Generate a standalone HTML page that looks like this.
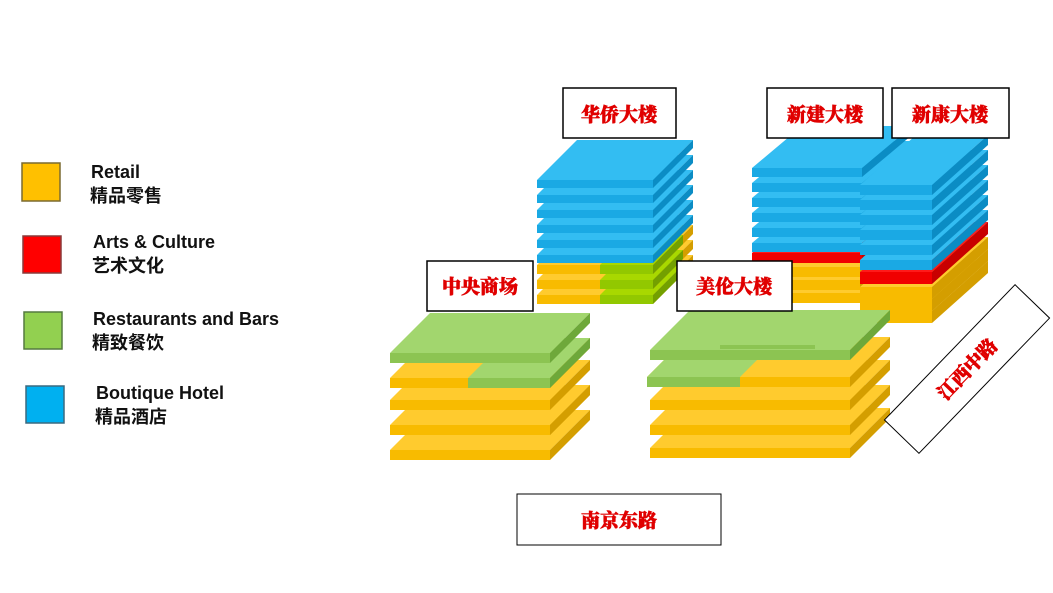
<!DOCTYPE html>
<html><head><meta charset="utf-8"><style>
body{margin:0;background:#fff;width:1053px;height:593px;overflow:hidden;font-family:"Liberation Sans","Noto Sans CJK SC",sans-serif}
</style></head><body>
<svg id="s" width="1053" height="593" xmlns="http://www.w3.org/2000/svg" style="position:absolute;left:0;top:0">
<rect x="22" y="163" width="38" height="38" fill="#ffc000" stroke="#7a6a30" stroke-width="1.5"/>
<rect x="23" y="236" width="38" height="37" fill="#ff0000" stroke="#8a3a3a" stroke-width="1.5"/>
<rect x="24" y="312" width="38" height="37" fill="#92d050" stroke="#557a40" stroke-width="1.5"/>
<rect x="26" y="386" width="38" height="37" fill="#00b0f0" stroke="#3a6a80" stroke-width="1.5"/>
<g font-weight="bold" font-size="18" fill="#111">
<text x="91" y="178">Retail</text><text x="90" y="202">精品零售</text>
<text x="93" y="248">Arts &amp; Culture</text><text x="92" y="272">艺术文化</text>
<text x="93" y="325">Restaurants and Bars</text><text x="92" y="349">精致餐饮</text>
<text x="96" y="399">Boutique Hotel</text><text x="95" y="423">精品酒店</text>
</g>
<g id="b"></g>
<g font-weight="900" font-size="19" fill="#e00000" font-family="'Liberation Serif','Noto Serif CJK SC',serif" text-anchor="middle" stroke="#e00000" stroke-width="0.6">
<rect x="563" y="88" width="113" height="50" fill="#fff" stroke="#000" stroke-width="1.5"/><text x="619" y="121">华侨大楼</text>
<rect x="767" y="88" width="116" height="50" fill="#fff" stroke="#000" stroke-width="1.5"/><text x="825" y="121">新建大楼</text>
<rect x="892" y="88" width="117" height="50" fill="#fff" stroke="#000" stroke-width="1.5"/><text x="950" y="121">新康大楼</text>
<rect x="427" y="261" width="106" height="50" fill="#fff" stroke="#000" stroke-width="1.5"/><text x="480" y="293">中央商场</text>
<rect x="677" y="261" width="115" height="50" fill="#fff" stroke="#000" stroke-width="1.5"/><text x="734" y="293">美伦大楼</text>
<rect x="517" y="494" width="204" height="51" fill="#fff" stroke="#000" stroke-width="1"/><text x="619" y="527">南京东路</text>
<g transform="translate(967,369) rotate(-46)"><rect x="-94" y="-24" width="188" height="48" fill="#fff" stroke="#000" stroke-width="1"/><text x="0" y="7">江西中路</text></g>
</g>
</svg>
<script>
var C={b:["#33bdf2","#1aa9e4","#0b8cc4"],o:["#ffcb2e","#f8bb00","#d49e00"],g:["#a2d66e","#8cc452","#6ea83a"],G:["#a8d800","#92c800","#73a000"],r:["#ff1a1a","#f00000","#c80000"]};
var h="";
function slab(x0,x1,y,t,dx,dy,c){var k=C[c];
h+='<polygon points="'+x0+','+y+' '+(x0+dx)+','+(y-dy)+' '+(x1+dx)+','+(y-dy)+' '+x1+','+y+'" fill="'+k[0]+'"/>';
h+='<polygon points="'+x1+','+y+' '+(x1+dx)+','+(y-dy)+' '+(x1+dx)+','+(y-dy+t)+' '+x1+','+(y+t)+'" fill="'+k[2]+'"/>';
h+='<rect x="'+x0+'" y="'+y+'" width="'+(x1-x0)+'" height="'+t+'" fill="'+k[1]+'"/>';}
// 华侨
[295,280,265].forEach(function(y){slab(537,653,y,9,40,40,"o");slab(600,653,y,9,30,30,"G");});
for(var i=5;i>=0;i--)slab(537,653,180+15*i,8,40,40,"b");
// 新建
[293,280,267].forEach(function(y){slab(752,860,y,10,40,40,"o");slab(752,790,y,10,0,0,"g");});
slab(752,862,253,10,40,40,"r");
for(var i=5;i>=0;i--)slab(752,862,168+15*i,9,50,42,"b");
// 新康
[311,299,287].forEach(function(y){slab(860,932,y,12,56,50,"o");});
slab(860,932,272,12,56,50,"r");
for(var i=5;i>=0;i--)slab(860,932,185+15*i,10,56,50,"b");
// 中央商场
slab(390,550,450,10,40,40,"o");
slab(390,550,425,10,40,40,"o");slab(550,550,425,10,40,40,"o");
slab(390,550,400,10,40,40,"o");
slab(390,550,378,10,40,40,"o");slab(468,550,378,10,40,40,"g");
slab(390,550,353,10,40,40,"g");
// 美伦
slab(650,850,448,10,40,40,"o");
slab(650,850,425,10,40,40,"o");
slab(650,850,400,10,40,40,"o");
slab(647,850,377,10,40,40,"o");slab(647,740,377,10,0,0,"g");
h+='<polygon points="647,377 687,337 780,337 740,377" fill="#a2d66e"/>';
slab(650,850,350,10,40,40,"g");
slab(720,815,345,4,0,0,"g");
document.getElementById("b").innerHTML=h;
</script>
</body></html>
